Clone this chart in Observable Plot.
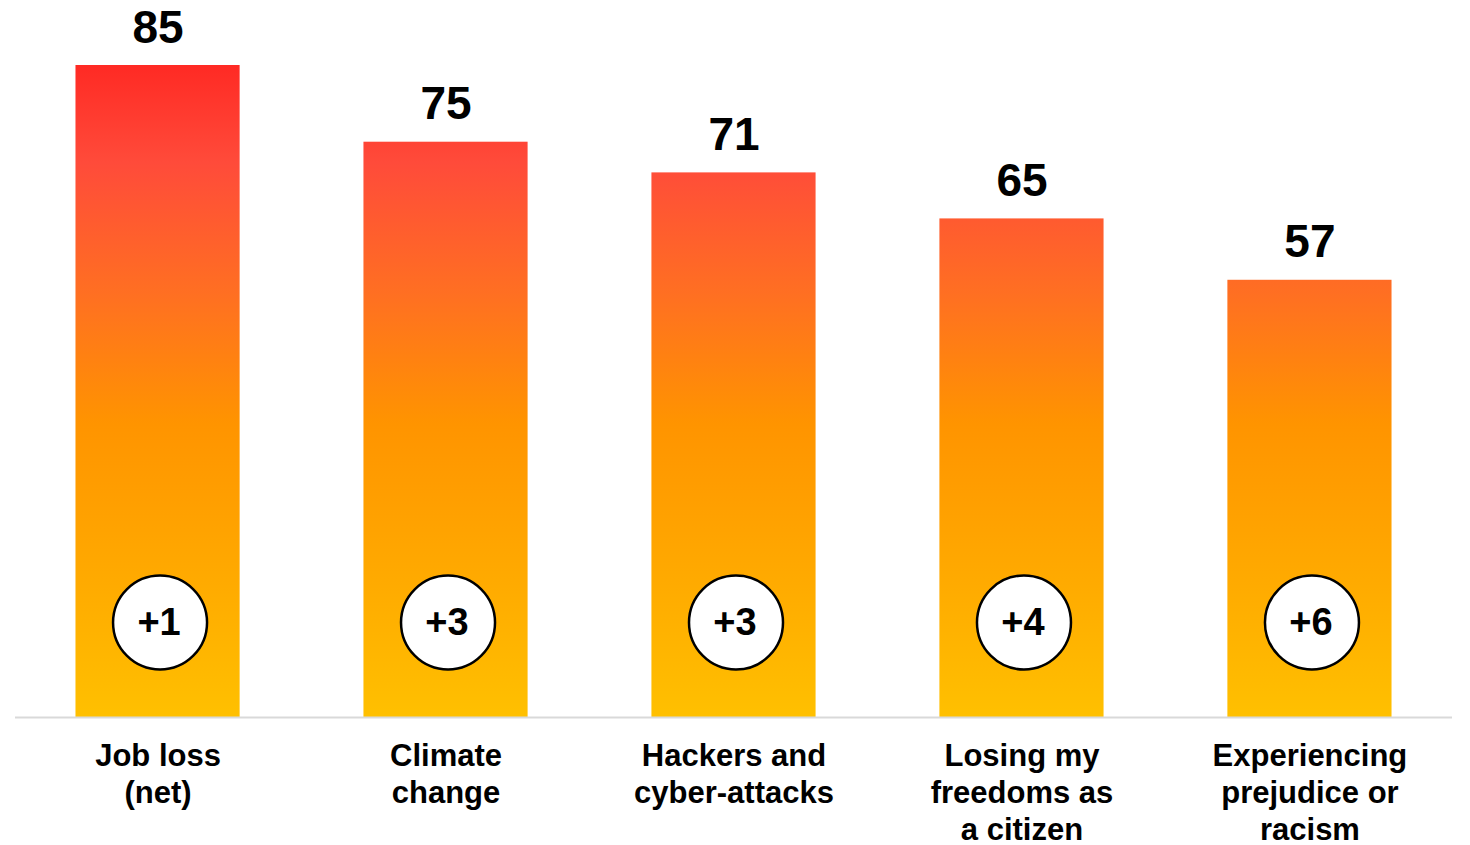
<!DOCTYPE html>
<html>
<head>
<meta charset="utf-8">
<script src="https://cdn.jsdelivr.net/npm/d3@7"></script>
<script src="https://cdn.jsdelivr.net/npm/@observablehq/plot@0.6"></script>
<style>
  html, body { margin: 0; padding: 0; background: #fff; }
  #chart { width: 1470px; height: 845px; }
</style>
</head>
<body>
<div id="chart"></div>
<script>
const categories = [
  "Job loss\n(net)",
  "Climate\nchange",
  "Hackers and\ncyber-attacks",
  "Losing my\nfreedoms as\na citizen",
  "Experiencing\nprejudice or\nracism"
];
const values = [85, 75, 71, 65, 57];
const changes = ["+1", "+3", "+3", "+4", "+6"];

const data = categories.map((c, i) => ({category: c, value: values[i], change: changes[i]}));

const FONT = "'Liberation Sans', Arial, Helvetica, sans-serif";

const plot = Plot.plot({
  width: 1470,
  height: 845,
  marginLeft: 15,
  marginRight: 18,
  marginTop: 65,
  marginBottom: 128,
  style: {fontFamily: FONT, background: "#fff"},
  x: {domain: categories, paddingInner: 0.43, paddingOuter: 0.21, round: false, axis: null},
  y: {domain: [0, 85], axis: null},
  marks: [
    Plot.barY(data, {x: "category", y: "value", fill: "url(#barGrad)"}),
    Plot.ruleY([0], {stroke: "#d9d9d9", strokeWidth: 2}),
    Plot.text(data, {
      x: "category", y: "value", text: d => String(d.value),
      lineAnchor: "bottom", dy: -23, fontSize: 46, fontWeight: "bold", fill: "#000"
    }),
    Plot.dot(data, {
      x: "category", frameAnchor: "bottom", dy: -95, dx: 2, r: 47,
      fill: "#fff", stroke: "#000", strokeWidth: 2.5
    }),
    Plot.text(data, {
      x: "category", frameAnchor: "bottom", lineAnchor: "middle", dy: -95, dx: 1, text: "change",
      fontSize: 38, fontWeight: "bold", fill: "#000"
    }),
    Plot.text(data, {
      x: "category", y: 0, text: "category", lineAnchor: "top", dy: 23,
      fontSize: 31, fontWeight: "bold", fill: "#000", lineHeight: 1.18
    })
  ]
});

const svg = d3.select(plot);
const defs = svg.insert("defs", ":first-child");
const grad = defs.append("linearGradient")
  .attr("id", "barGrad")
  .attr("gradientUnits", "userSpaceOnUse")
  .attr("x1", 0).attr("x2", 0)
  .attr("y1", 65).attr("y2", 717);
[
  [0, "#ff2a24"],
  [0.15, "#ff4b3a"],
  [0.35, "#ff6f22"],
  [0.55, "#ff9400"],
  [0.8, "#ffab00"],
  [1, "#ffc000"]
].forEach(([o, c]) => grad.append("stop").attr("offset", o).attr("stop-color", c));

document.getElementById("chart").appendChild(plot);
</script>
</body>
</html>
